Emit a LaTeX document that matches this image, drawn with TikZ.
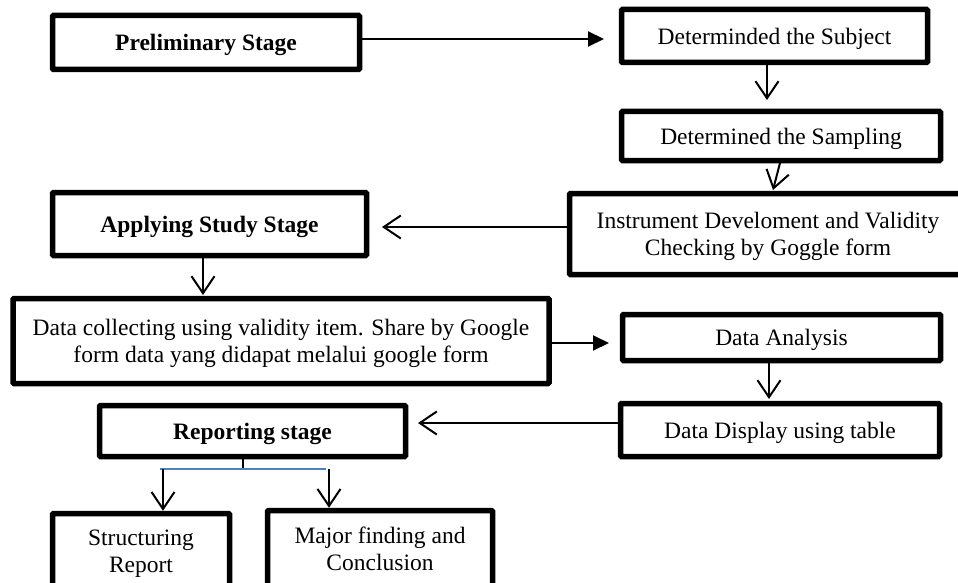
\documentclass[tikz,border=0pt]{standalone}
\usepackage{fontspec}
\setmainfont{Liberation Serif}
\usetikzlibrary{arrows.meta,calc}
\definecolor{treeblue}{RGB}{79,129,189}
\tikzset{
  stagebox/.style={draw=black, line width=5.5pt, rounded corners=1pt, inner sep=0pt, align=center,
     text depth=0pt, font=\fontsize{23.5}{27}\selectfont},
  boldbox/.style={stagebox, font=\fontsize{23.5}{27}\selectfont\bfseries},
  conn/.style={line width=2pt},
  vtip/.style={conn, -{Straight Barb[length=17pt,width=23pt,line width=2pt]}},
  ftip/.style={conn, -{Triangle[length=16pt,width=15pt]}},
}
\begin{document}
\begin{tikzpicture}[x=1pt,y=-1pt]
\useasboundingbox (0,0) rectangle (958,583);
\begin{scope}
\clip (0,0) rectangle (958,583);
% boxes
\node[boldbox, minimum width=307pt, minimum height=54pt] (prelim) at (206,42.5) {Preliminary Stage};
\node[stagebox, minimum width=306pt, minimum height=53pt] (subj) at (774.5,36) {Determinded the Subject};
\node[stagebox, minimum width=319pt, minimum height=49pt] (samp) at (781,136) {Determined the Sampling};
\node[stagebox, minimum width=397pt, minimum height=81pt] (instr) at (768,234) {Instrument Develoment and Validity\\Checking by Goggle form};
\node[boldbox, minimum width=314pt, minimum height=63pt] (apply) at (209.5,224) {Applying Study Stage};
\node[stagebox, minimum width=536pt, minimum height=85pt] (coll) at (281,341) {Data collecting using validity item. Share by Google\\form data yang didapat melalui google form};
\node[stagebox, minimum width=318pt, minimum height=46pt] (anal) at (781.5,337.5) {Data Analysis};
\node[stagebox, minimum width=319pt, minimum height=53pt] (disp) at (780,430) {Data Display using table};
\node[boldbox, minimum width=306pt, minimum height=51pt] (rep) at (252.5,431) {Reporting stage};
\node[stagebox, minimum width=177pt, minimum height=76pt] (struct) at (141,551.5) {Structuring\\Report};
\node[stagebox, minimum width=225pt, minimum height=76pt] (major) at (380,548.5) {Major finding and\\Conclusion};
\end{scope}
% connectors
\coordinate (t1) at (604,39);
\draw[ftip] (prelim.east |- t1) -- (t1);
\coordinate (t2) at (767,100);
\draw[vtip] (subj.south -| t2) -- (t2);
\coordinate (s3) at (780,163);
\coordinate (t3) at (773,190);
\draw[vtip] (s3) -- (t3);
\coordinate (t4) at (382,227);
\draw[vtip] (instr.west |- t4) -- (t4);
\coordinate (t5) at (203,295);
\draw[vtip] (apply.south -| t5) -- (t5);
\coordinate (t6) at (609,343);
\draw[ftip] (coll.east |- t6) -- (t6);
\coordinate (t7) at (769,399);
\draw[vtip] (anal.south -| t7) -- (t7);
\coordinate (t8) at (418,423);
\draw[vtip] (disp.west |- t8) -- (t8);
% tree
\coordinate (br) at (243,469);
\coordinate (bl) at (160,469);
\coordinate (bR) at (326,469);
\draw[line width=1.2pt] (rep.south -| br) -- (br);
\draw[treeblue, line width=1.6pt] (bl) -- (bR);
\coordinate (l1) at (163,469);
\coordinate (l2) at (329,469);
\draw[vtip] (l1) -- (struct.north -| l1);
\draw[vtip] (l2) -- (major.north -| l2);
\end{tikzpicture}
\end{document}
